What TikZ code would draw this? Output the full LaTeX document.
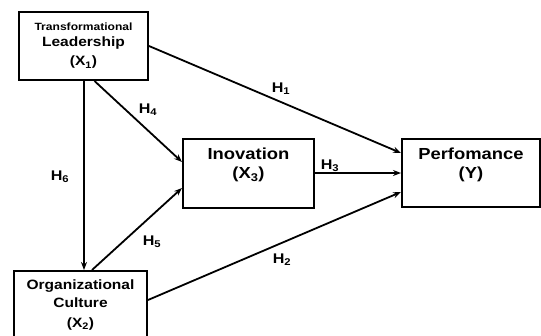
\documentclass[tikz,border=0pt]{standalone}
\usepackage{fontspec}
\setmainfont{Liberation Sans}[FakeStretch=1.15]
\usetikzlibrary{arrows.meta}
\begin{document}
\begin{tikzpicture}
[
x=1pt, y=-1pt,
varbox/.style={rectangle, draw=black, line width=2pt, align=center, inner sep=2pt},
hyp/.style={-{Stealth[length=8pt,width=6pt]}, line width=1.8pt},
hlabel/.style={font=\fontsize{14}{16}\selectfont\bfseries}
]
\useasboundingbox (0,0) rectangle (541,335);
%Nodes
\node[varbox, minimum width=129pt, minimum height=68pt, font=\fontsize{13.5}{19}\selectfont\bfseries]	(x1) at(83.5,46) {{\fontsize{10.5}{12}\selectfont Transformational}\\[-3pt]Leadership\\(X\textsubscript{1})};
\node[varbox, minimum width=133pt, minimum height=68pt, font=\fontsize{13.5}{18}\selectfont\bfseries]	(x2) at(80.5,305) {Organizational\\Culture\\[2pt](X\textsubscript{2})};
\node[varbox, minimum width=131pt, minimum height=69pt, font=\fontsize{16}{19}\selectfont\bfseries]	(x3) at(248.5,173) {Inovation\\(X\textsubscript{3})\\[-6pt]\strut};
\node[varbox, minimum width=138pt, minimum height=68pt, font=\fontsize{16}{19}\selectfont\bfseries]	(y) at(471,173) {Perfomance\\(Y)\\[-6pt]\strut};

%Labels
\node[hlabel]		(h1) at(281,89) {H\textsubscript{1}};
\node[hlabel]		(h2) at(282,260) {H\textsubscript{2}};
\node[hlabel]		(h3) at(330,166) {H\textsubscript{3}};
\node[hlabel]		(h4) at(148,110) {H\textsubscript{4}};
\node[hlabel]		(h5) at(152,242) {H\textsubscript{5}};
\node[hlabel]		(h6) at(60,177) {H\textsubscript{6}};

%Arrows
\draw[hyp] (x1.east) -- ([yshift=20pt]y.west);
\draw[hyp] (x2.east) ++(0,-5) -- ([yshift=-19pt]y.west);
\draw[hyp] (x3.east) -- (x3.east -| y.west);
\draw[hyp] ([xshift=11pt]x1.south) -- ([yshift=11pt]x3.west);
\draw[hyp] ([xshift=11.5pt]x2.north) -- ([yshift=-15pt]x3.west);
\draw[hyp] ([xshift=0.5pt]x1.south) -- ([xshift=0.5pt]x1.south |- x2.north);

\end{tikzpicture}
\end{document}
